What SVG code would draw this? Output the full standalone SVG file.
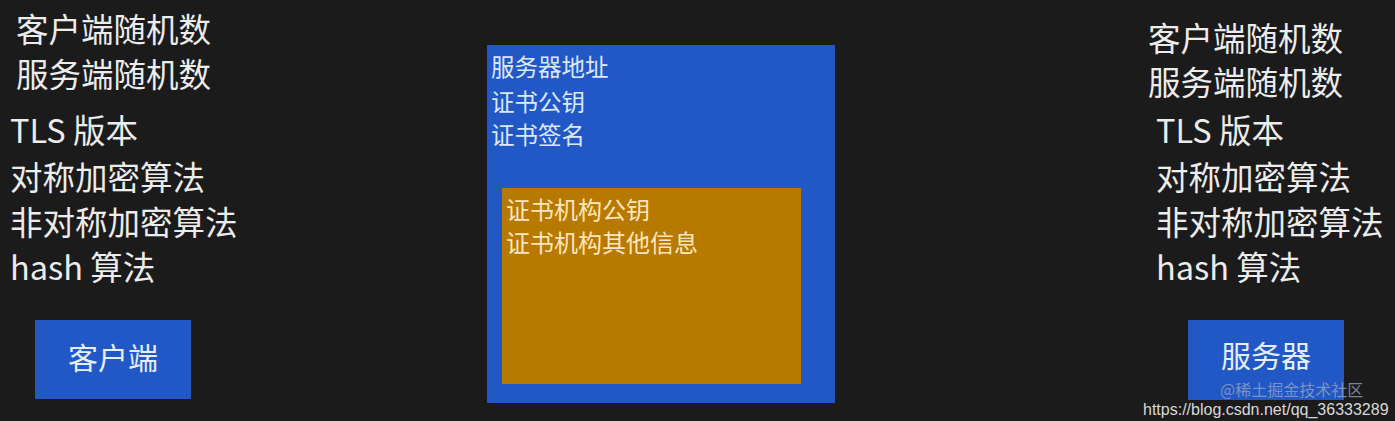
<svg xmlns="http://www.w3.org/2000/svg" width="1395" height="421" viewBox="0 0 1395 421">
<style>
.t{font-family:"Noto Sans CJK SC","Noto Sans",sans-serif;font-size:32.5px;fill:#ececec}
.b{font-family:"Noto Sans CJK SC","Noto Sans",sans-serif;font-size:23.5px;fill:#dce8ff}
.o{font-family:"Noto Sans CJK SC","Noto Sans",sans-serif;font-size:24px;fill:#ffe6bf}
.btn{font-family:"Noto Sans CJK SC","Noto Sans",sans-serif;font-size:30px;fill:#e4eeff;text-anchor:middle}
.blue{fill:#2258c6}
</style>
<rect x="0" y="0" width="1395" height="421" fill="#1b1b1b"/>
<g id="client-info">
<text class="t" x="16" y="42">客户端随机数</text>
<text class="t" x="16" y="87">服务端随机数</text>
<text class="t" x="10" y="143">TLS 版本</text>
<text class="t" x="10" y="190">对称加密算法</text>
<text class="t" x="10" y="235">非对称加密算法</text>
<text class="t" x="10" y="280">hash 算法</text>
</g>
<g id="client">
<rect class="blue" x="35" y="320" width="156" height="79"/>
<text class="btn" x="113" y="369">客户端</text>
</g>
<g id="certificate">
<rect class="blue" x="487" y="45" width="348" height="358"/>
<text class="b" x="491" y="76">服务器地址</text>
<text class="b" x="491" y="111">证书公钥</text>
<text class="b" x="491" y="144">证书签名</text>
</g>
<g id="ca">
<rect x="502" y="188" width="299" height="196" fill="#b77900"/>
<text class="o" x="506" y="219">证书机构公钥</text>
<text class="o" x="506" y="252">证书机构其他信息</text>
</g>
<g id="server-info">
<text class="t" x="1148" y="51">客户端随机数</text>
<text class="t" x="1148" y="95">服务端随机数</text>
<text class="t" x="1156" y="143">TLS 版本</text>
<text class="t" x="1156" y="190">对称加密算法</text>
<text class="t" x="1156" y="235">非对称加密算法</text>
<text class="t" x="1156" y="280">hash 算法</text>
</g>
<g id="server">
<rect class="blue" x="1188" y="320" width="156" height="80"/>
<text class="btn" x="1266" y="367">服务器</text>
</g>
<g id="connectors"></g>
<g id="watermark">
<text x="1220" y="396" font-family="'Noto Sans CJK SC',sans-serif" font-size="16" fill="#9aa6c0" fill-opacity="0.75">@稀土掘金技术社区</text>
<text x="1143" y="415" font-family="'Liberation Sans',sans-serif" font-size="16" fill="#d8d8d8">https://blog.csdn.net/qq_36333289</text>
</g>
</svg>
